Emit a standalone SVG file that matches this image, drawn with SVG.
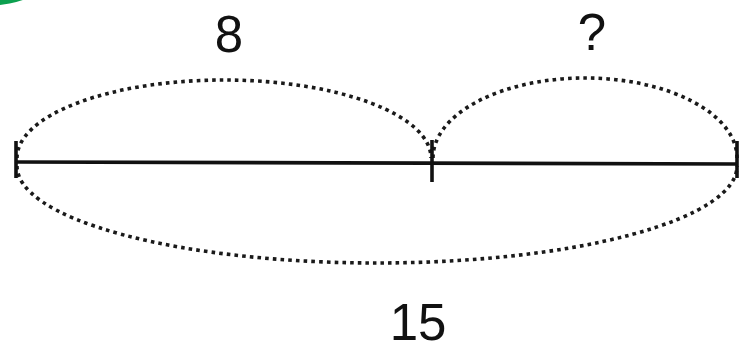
<svg xmlns="http://www.w3.org/2000/svg" width="740" height="351" viewBox="0 0 740 351">
<style>
.dot{fill:none;stroke:#1a1a1a;stroke-width:3.6;stroke-dasharray:3.6 4.1}
.seg{fill:none;stroke:#111;stroke-width:3.6}
.tick{fill:none;stroke:#111;stroke-width:3.6}
.lbl{font-family:"Liberation Sans","DejaVu Sans",sans-serif;font-size:51px;fill:#111;text-anchor:middle}
</style>
<rect width="740" height="351" fill="#fff"/>
<circle id="badge" cx="-10" cy="-95" r="100.5" fill="#0ca04f"/>
<g id="connectors">
<path class="dot" d="M17,158 A207,78 0 0 1 431,158"/>
<path class="dot" d="M433,158 A152,80 0 0 1 737,158"/>
<path class="dot" d="M17,166 A360,97 0 0 0 737,166"/>
</g>
<g id="segment">
<line class="seg" x1="16" y1="162" x2="737" y2="164"/>
<line class="tick" x1="16" y1="141" x2="16" y2="178"/>
<line class="tick" x1="432" y1="140" x2="432" y2="182"/>
<line class="tick" x1="737" y1="141" x2="737" y2="178"/>
</g>
<g id="label-8"><text class="lbl" x="229" y="52">8</text></g>
<g id="label-q"><text class="lbl" x="592" y="50">?</text></g>
<g id="label-15"><text class="lbl" x="418" y="340">15</text></g>
</svg>
